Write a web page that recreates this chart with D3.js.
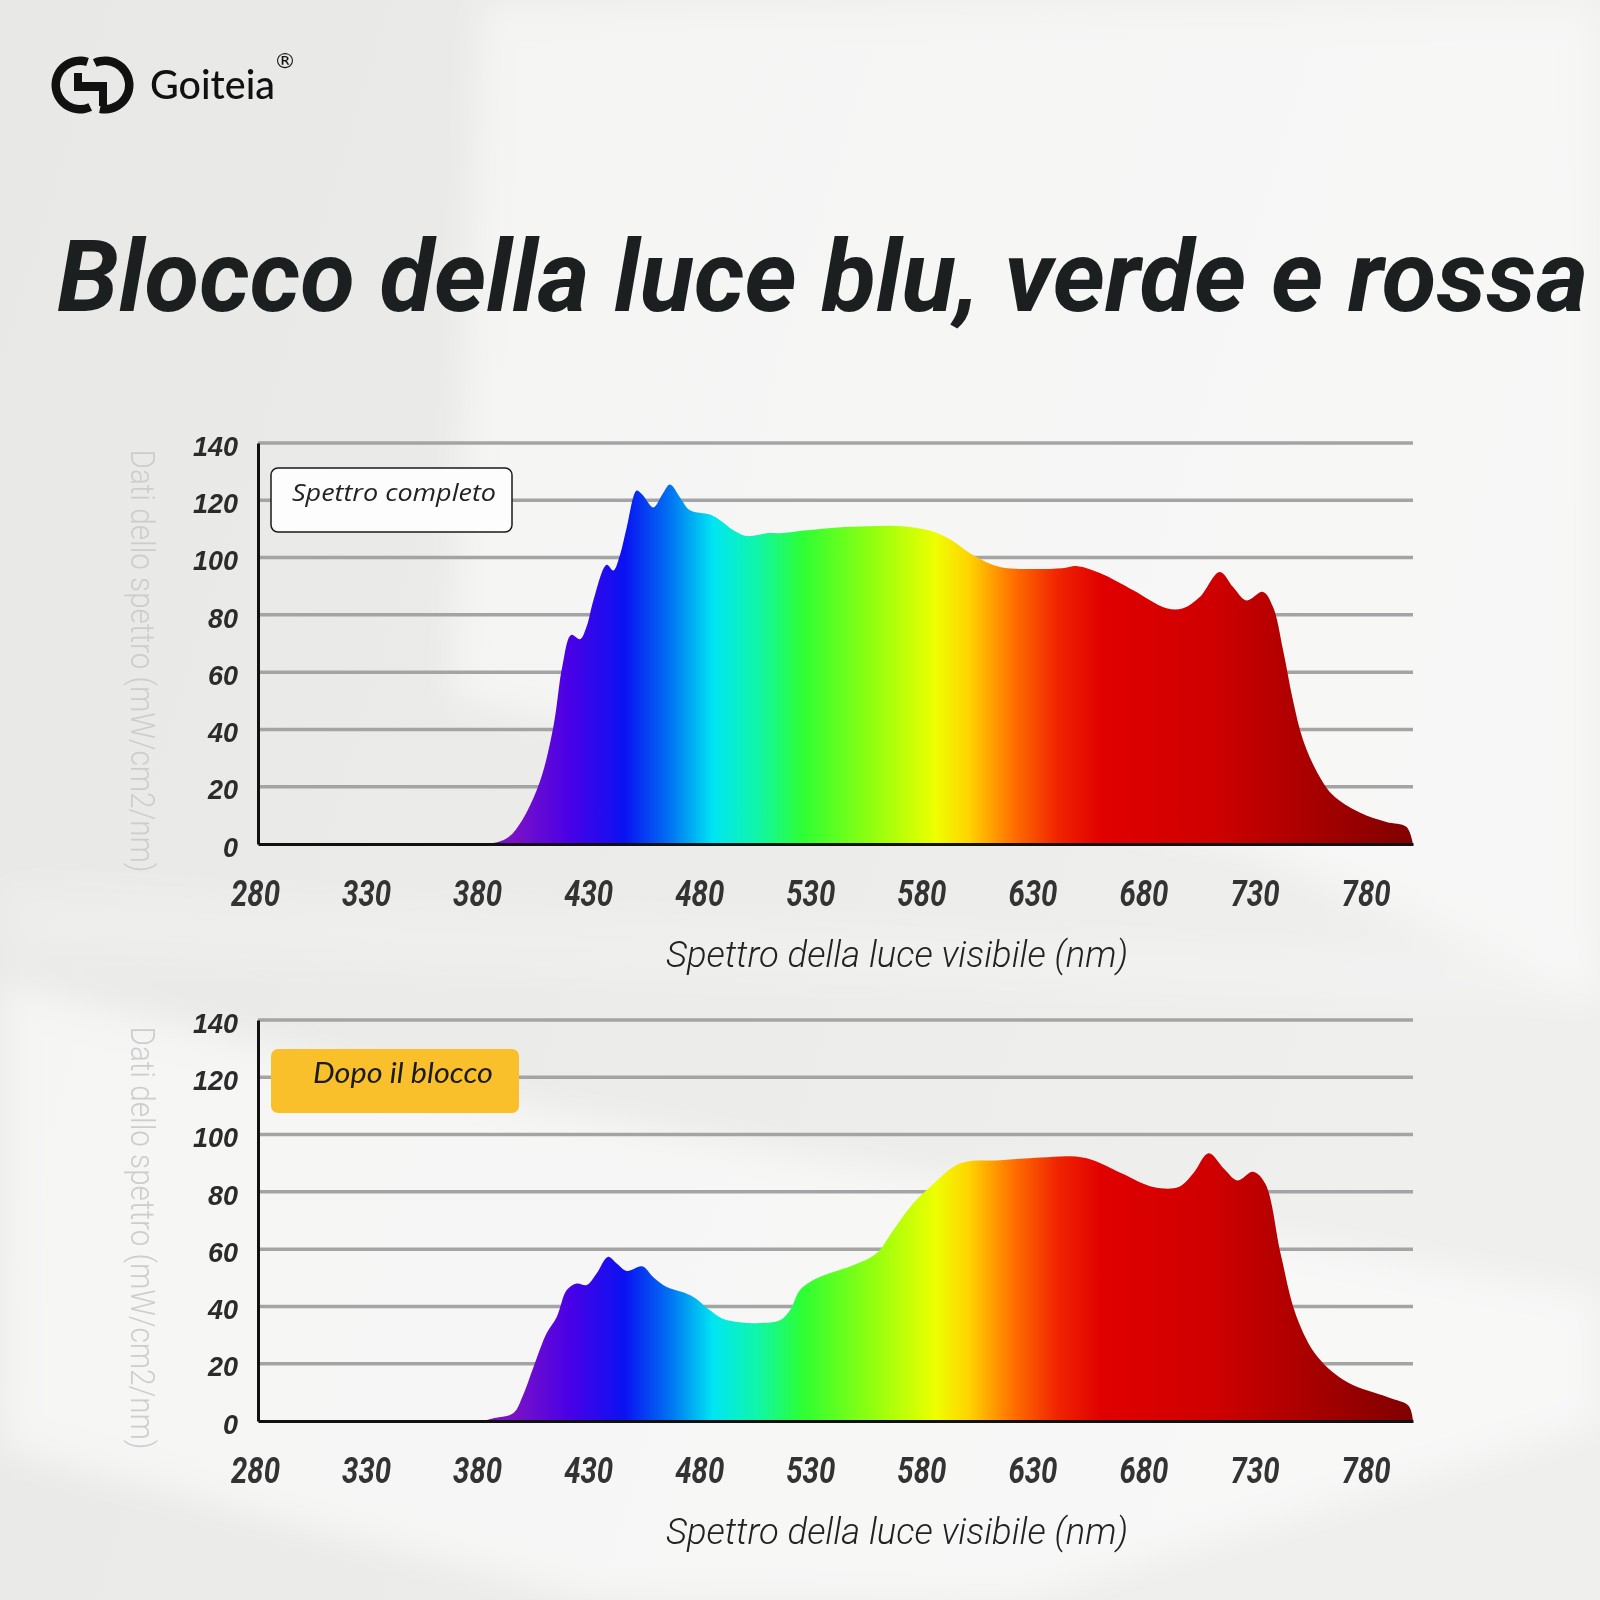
<!DOCTYPE html>
<html><head><meta charset="utf-8">
<script src="https://cdn.jsdelivr.net/npm/d3@7"></script>
<style>html,body{margin:0;padding:0;background:#ebebe9;} svg{display:block}</style>
</head><body><svg id="c" width="1600" height="1600"></svg>
<script>
// ---------- data ----------
const wavelengthTicks = [280, 330, 380, 430, 480, 530, 580, 630, 680, 730, 780];
const intensityTicks = [0, 20, 40, 60, 80, 100, 120, 140];

const wlFull = [280, 380, 388, 393, 399, 407, 413, 417, 421, 425, 428, 431, 437, 440, 443, 446, 450.5, 453, 458, 462, 465.5, 470, 474.5, 483.5, 488, 494, 500, 509, 515, 527, 541, 554, 568, 582, 591, 602.5, 614, 628, 642, 649, 659, 674, 689, 696.5, 704, 713, 719, 725, 732.5, 737, 741.5, 746, 750.5, 757, 764, 776, 788, 797, 800];
const valFull = [0, 0, 0.7, 2.5, 8.4, 22, 41, 62, 73, 71.5, 76, 85, 97.5, 95.5, 101, 110.5, 123.4, 122, 117.5, 122, 125.5, 121, 116.5, 115, 113, 109.5, 107.5, 108.5, 108.5, 109.5, 110.5, 110.9, 111, 109.5, 106.6, 100.6, 96.7, 96, 96.3, 97, 94.6, 88.6, 82.3, 82.3, 86.2, 95, 89.7, 85, 88, 82.7, 67.7, 50, 36.3, 24.8, 17, 11, 7.7, 6, 0];

const wlBlocked = [280, 380, 386, 395, 399, 404, 410, 414.5, 419, 423.5, 428, 432.5, 437.5, 441.5, 446, 453, 458, 464, 471, 476, 483.5, 489.5, 497, 507, 515, 519.5, 524, 530, 539, 548, 558.5, 566, 575, 582.5, 596, 614, 632.5, 646, 655, 669, 683, 694.5, 701, 708, 715, 721, 728, 733.5, 740.5, 747.5, 757, 770.5, 789, 798, 800];
const valBlocked = [0, 0, 1, 2.8, 8.4, 18.8, 30.7, 36.3, 45.7, 48, 47.5, 51.6, 57.3, 55, 52.4, 54, 50.2, 46.8, 45, 43.3, 38.7, 35.6, 34.5, 34.2, 35.2, 38.7, 45.7, 49.2, 52, 54.4, 58.6, 66.6, 76, 81.6, 89.9, 91, 92, 92.4, 91.3, 86.4, 81.7, 81.7, 86.4, 93.5, 88, 84, 87, 82.8, 58, 36.6, 22.4, 13.5, 8.2, 5.3, 0];

const spectrumStopsNm = [395, 420, 445, 465, 485, 505, 525, 555, 585, 600, 620, 640, 660, 710, 745, 800];
const spectrumStopsColor = ["#7a12c6", "#4a00e6", "#0a12f2", "#0070f2", "#00e6f2", "#10f6a8", "#2cff34", "#8cff10", "#eeff00", "#ffd400", "#ff7000", "#f02400", "#e00000", "#cf0000", "#b00000", "#800000"];

const titleText = "Blocco della luce blu, verde e rossa";
const yTitle = "Dati dello spettro (mW/cm2/nm)";
const xTitle = "Spettro della luce visibile (nm)";
const panelLabels = ["Spettro completo", "Dopo il blocco"];

// ---------- svg ----------
const svg = d3.select("#c");
const defs = svg.append("defs");

// background
const bg = defs.append("linearGradient").attr("id", "bg").attr("x1", "0").attr("y1", "0").attr("x2", "1").attr("y2", "0.3");
bg.append("stop").attr("offset", "0").attr("stop-color", "#e8e8e6");
bg.append("stop").attr("offset", "1").attr("stop-color", "#efefee");
svg.append("rect").attr("width", 1600).attr("height", 1600).attr("fill", "url(#bg)");
defs.append("filter").attr("id", "blur").attr("x", "-20%").attr("y", "-20%").attr("width", "140%").attr("height", "140%")
  .append("feGaussianBlur").attr("stdDeviation", 18);
const sheen = [
  {pts: [[480,0],[1600,0],[1600,1000],[1250,850],[450,700]], op: 0.5},
  {pts: [[0,980],[510,1103],[1600,1295],[1600,1424],[1020,1600],[600,1600],[0,1450]], op: 0.55},
  {pts: [[0,880],[1600,960],[1600,1010],[0,960]], op: 0.2}
];
svg.append("g").attr("filter", "url(#blur)").selectAll("polygon").data(sheen).join("polygon")
  .attr("points", d => d.pts.map(p => p.join(",")).join(" "))
  .attr("fill", "#ffffff").attr("opacity", d => d.op);

// logo
const logo = svg.append("g").attr("fill", "#111");
const arc = d3.arc().innerRadius(20).outerRadius(28.5);
const deg = Math.PI / 180;
logo.append("path").attr("transform", "translate(80,85)")
  .attr("d", arc({startAngle: 155 * deg, endAngle: 378 * deg}));
logo.append("path").attr("transform", "translate(105,85)")
  .attr("d", arc({startAngle: -25 * deg, endAngle: 192 * deg}));
logo.append("rect").attr("x", 74).attr("y", 73).attr("width", 8).attr("height", 18);
logo.append("rect").attr("x", 74).attr("y", 82).attr("width", 33).attr("height", 9);
logo.append("rect").attr("x", 99).attr("y", 82).attr("width", 8).attr("height", 24);
svg.append("text").attr("x", 150).attr("y", 99).attr("font-family", "Lato, sans-serif").attr("font-weight", 500)
  .attr("font-size", 40).attr("fill", "#111").attr("textLength", 125).attr("lengthAdjust", "spacingAndGlyphs").text("Goiteia");
svg.append("text").attr("x", 285).attr("y", 68).attr("text-anchor", "middle").attr("font-family", "DejaVu Sans, sans-serif")
  .attr("font-size", 22).attr("fill", "#111").text("®");

// title
svg.append("text").attr("x", 57).attr("y", 311)
  .attr("font-family", "Roboto, sans-serif").attr("font-weight", 700).attr("font-style", "italic")
  .attr("font-size", 99).attr("fill", "#1b1f1f")
  .attr("textLength", 1531).attr("lengthAdjust", "spacingAndGlyphs").text(titleText);

// scales
const x = d3.scaleLinear().domain([280, 800]).range([258, 1413]);

// spectrum gradient
const sg = defs.append("linearGradient").attr("id", "spec").attr("gradientUnits", "userSpaceOnUse")
  .attr("x1", x(280)).attr("x2", x(800)).attr("y1", 0).attr("y2", 0);
sg.selectAll("stop").data(spectrumStopsNm).join("stop")
  .attr("offset", d => (x(d) - x(280)) / (x(800) - x(280)))
  .attr("stop-color", (d, i) => spectrumStopsColor[i]);

function panel(top, wl, val, id) {
  const y = d3.scaleLinear().domain([0, 140]).range([top + 401, top]);
  const g = svg.append("g");
  defs.append("clipPath").attr("id", "clip" + id).append("rect")
    .attr("x", x(280)).attr("y", top - 20).attr("width", x(800) - x(280)).attr("height", 421);
  // grid
  g.selectAll("line.grid").data(intensityTicks.filter(d => d > 0)).join("line")
    .attr("x1", x(280)).attr("x2", x(800)).attr("y1", d => y(d)).attr("y2", d => y(d))
    .attr("stroke", "#a4a4a4").attr("stroke-width", 3.5);
  // area
  const pts = wl.map((w, i) => [w, val[i]]);
  const area = d3.area().x(d => x(d[0])).y0(y(0)).y1(d => y(d[1])).curve(d3.curveCatmullRom.alpha(0.5));
  g.append("path").attr("d", area(pts)).attr("fill", "url(#spec)").attr("clip-path", `url(#clip${id})`);
  // axes
  const ya = g.append("g").attr("transform", `translate(${x(280)},0)`)
    .call(d3.axisLeft(y).tickValues(intensityTicks).tickSize(0).tickSizeOuter(0).tickPadding(20));
  ya.select(".domain").attr("stroke", "#111").attr("stroke-width", 3);
  ya.selectAll("text").attr("font-family", "Liberation Sans, Arial, sans-serif").attr("font-weight", 700)
    .attr("font-style", "italic").attr("font-size", 27).attr("fill", "#2b2b2b").attr("dy", "0.45em");
  const xa = g.append("g").attr("transform", `translate(0,${y(0)})`)
    .call(d3.axisBottom(x).tickValues(wavelengthTicks).tickSize(0).tickSizeOuter(0));
  xa.select(".domain").attr("stroke", "#111").attr("stroke-width", 3);
  xa.selectAll("text").attr("y", 62).attr("dy", 0).attr("dx", -3)
    .attr("font-family", "Roboto, sans-serif").attr("font-weight", 700).attr("font-style", "italic")
    .attr("font-size", 37).attr("fill", "#333")
    .attr("textLength", 49).attr("lengthAdjust", "spacingAndGlyphs");
  // axis titles
  g.append("text").attr("x", 897).attr("y", y(0) + 123).attr("text-anchor", "middle")
    .attr("font-family", "Roboto, sans-serif").attr("font-weight", 300).attr("font-style", "italic")
    .attr("font-size", 37).attr("fill", "#222")
    .attr("textLength", 462).attr("lengthAdjust", "spacingAndGlyphs").text(xTitle);
  g.append("text").attr("transform", `translate(131,${top + 218}) rotate(90)`).attr("text-anchor", "middle")
    .attr("font-family", "Roboto, sans-serif").attr("font-weight", 300).attr("font-size", 33)
    .attr("fill", "#cdcdcd").attr("textLength", 423).attr("lengthAdjust", "spacingAndGlyphs").text(yTitle);
  return y;
}

panel(443, wlFull, valFull, 1);
panel(1020, wlBlocked, valBlocked, 2);

// panel labels
svg.append("rect").attr("x", 271).attr("y", 468).attr("width", 241).attr("height", 64).attr("rx", 7)
  .attr("fill", "#fdfdfd").attr("stroke", "#1a1a1a").attr("stroke-width", 1.5);
svg.append("text").attr("x", 394).attr("y", 501).attr("text-anchor", "middle")
  .attr("font-family", "Open Sans, sans-serif").attr("font-style", "italic").attr("font-size", 24)
  .attr("fill", "#222").attr("textLength", 204).attr("lengthAdjust", "spacingAndGlyphs").text(panelLabels[0]);

svg.append("rect").attr("x", 271).attr("y", 1049).attr("width", 248).attr("height", 64).attr("rx", 7)
  .attr("fill", "#f9c02c");
svg.append("text").attr("x", 403).attr("y", 1083).attr("text-anchor", "middle")
  .attr("font-family", "Lato, sans-serif").attr("font-style", "italic").attr("font-size", 28)
  .attr("fill", "#1a1a1a").attr("textLength", 180).attr("lengthAdjust", "spacingAndGlyphs").text(panelLabels[1]);
</script>
</body></html>
